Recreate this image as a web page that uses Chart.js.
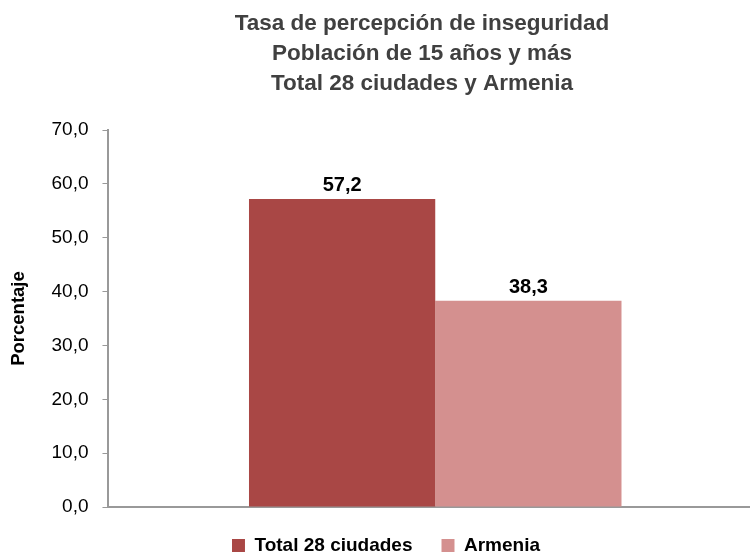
<!DOCTYPE html>
<html>
<head>
<meta charset="utf-8">
<script src="https://cdn.jsdelivr.net/npm/chart.js@4/dist/chart.umd.min.js"></script>
<style>
  html, body { margin: 0; padding: 0; background: #fff; overflow: hidden; }
</style>
</head>
<body>
<!-- plot area runs past the right edge in the original, so the canvas is a bit wider than the page -->
<canvas id="graph" width="762" height="555"></canvas>
<script>
const titleLines = ["Tasa de percepción de inseguridad", "Población de 15 años y más", "Total 28 ciudades y Armenia"];
const categories = [""];
const seriesNames = ["Total 28 ciudades", "Armenia"];
const totalValues = [57.2];
const armeniaValues = [38.3];
const yMin = 0;
const yMax = 70;
const yStep = 10;
const yTitle = "Porcentaje";

const bgColors = ["#A94745", "#D4908F"];
const fontName = "'Liberation Sans', Arial, sans-serif";

function comma(v) {
  return Number(v).toFixed(1).replace(".", ",");
}

// title is drawn by hand so it can sit a bit left of the plot centre like the original
const chartTitle = {
  id: "chartTitle",
  afterDraw(chart) {
    const ctx = chart.ctx;
    ctx.save();
    ctx.font = "bold 22.5px " + fontName;
    ctx.fillStyle = "#404040";
    ctx.textAlign = "center";
    ctx.textBaseline = "middle";
    titleLines.forEach((line, i) => ctx.fillText(line, 422, 24 + i * 30));
    ctx.restore();
  }
};

// labels over the bars, no datalabels plugin here
const barLabels = {
  id: "barLabels",
  afterDatasetsDraw(chart) {
    const ctx = chart.ctx;
    ctx.save();
    ctx.font = "bold 20px " + fontName;
    ctx.fillStyle = "#000";
    ctx.textAlign = "center";
    ctx.textBaseline = "alphabetic";
    chart.data.datasets.forEach((ds, i) => {
      chart.getDatasetMeta(i).data.forEach((bar, j) => {
        ctx.fillText(comma(ds.data[j]), bar.x, bar.y - 8);
      });
    });
    ctx.restore();
  }
};

let data = {
  labels: categories,
  datasets: [
    { label: seriesNames[0], data: totalValues, backgroundColor: bgColors[0] },
    { label: seriesNames[1], data: armeniaValues, backgroundColor: bgColors[1] }
  ]
};

let options = {
  responsive: false,
  animation: false,
  layout: { padding: { left: 10, right: 0, top: 130, bottom: -10 } },
  datasets: { bar: { categoryPercentage: 0.57, barPercentage: 1.0 } },
  plugins: {
    title: { display: false },
    legend: {
      position: "bottom",
      labels: {
        color: "#000",
        font: { family: fontName, size: 19, weight: "bold" },
        boxWidth: 13,
        boxHeight: 13,
        padding: 29
      }
    },
    tooltip: { enabled: false }
  },
  scales: {
    x: {
      ticks: { display: false },
      grid: { display: false, drawTicks: false },
      border: { display: true, color: "#999", width: 2 }
    },
    y: {
      min: yMin,
      max: yMax,
      ticks: {
        stepSize: yStep,
        color: "#000",
        padding: 14,
        font: { family: fontName, size: 19 },
        callback: v => comma(v)
      },
      grid: { drawOnChartArea: false, drawTicks: true, tickLength: 6, color: "#999" },
      border: { display: true, color: "#999", width: 2 },
      title: {
        display: true,
        text: yTitle,
        color: "#000",
        font: { family: fontName, size: 18.5, weight: "bold", lineHeight: 1.0 },
        padding: { top: 0, bottom: 9 }
      }
    }
  }
};

new Chart(document.getElementById("graph"), {
  type: "bar",
  data: data,
  options: options,
  plugins: [barLabels, chartTitle]
});
</script>
</body>
</html>
